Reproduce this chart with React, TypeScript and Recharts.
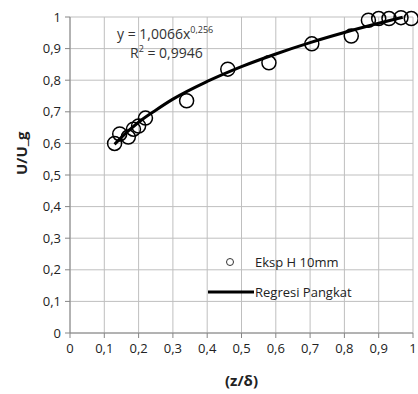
import React from "react";
import { ComposedChart, Scatter, Line, XAxis, YAxis, CartesianGrid } from "recharts";

// measured points (z/δ, U/U_g)
const zd = [0.13, 0.145, 0.17, 0.185, 0.2, 0.22, 0.34, 0.46, 0.58, 0.705, 0.82, 0.87, 0.9, 0.93, 0.965, 0.995];
const uu = [0.6, 0.63, 0.62, 0.645, 0.655, 0.68, 0.735, 0.835, 0.855, 0.915, 0.94, 0.99, 0.995, 0.995, 0.998, 0.995];

// regression curve y = 1,0066x^0,256 read at a few x positions
const fitX = [0.13, 0.15, 0.175, 0.2, 0.25, 0.3, 0.4, 0.5, 0.6, 0.7, 0.8, 0.9, 0.97];
const fitY = [0.597, 0.619, 0.644, 0.667, 0.705, 0.74, 0.796, 0.843, 0.883, 0.919, 0.951, 0.98, 0.999];

const ticks = [0, 0.1, 0.2, 0.3, 0.4, 0.5, 0.6, 0.7, 0.8, 0.9, 1];

const points = zd.map((x, i) => ({ x, y: uu[i] }));
const fit = fitX.map((x, i) => ({ x, y: fitY[i] }));

const font = "'Open Sans', sans-serif";
const fmt = (v: number) => String(Math.round(v * 10) / 10).replace(".", ",");

const Circle = (props: any) => (
  <circle cx={props.cx} cy={props.cy} r={7} fill="none" stroke="#000" strokeWidth={1.5} />
);

const LegendBox = () => (
  <div style={{ fontFamily: font, fontSize: 13, color: "#222", lineHeight: "30px" }}>
    <div style={{ display: "flex", alignItems: "center" }}>
      <svg width={50} height={14}>
        <circle cx={25} cy={7} r={3.5} fill="none" stroke="#333" strokeWidth={1} />
      </svg>
      <span>Eksp H 10mm</span>
    </div>
    <div style={{ display: "flex", alignItems: "center" }}>
      <svg width={50} height={14}>
        <line x1={3} y1={7} x2={49} y2={7} stroke="#000" strokeWidth={3} />
      </svg>
      <span>Regresi Pangkat</span>
    </div>
  </div>
);

export default function App() {
  return (
    <div style={{ position: "absolute", left: 0, top: 0, width: 418, height: 394, background: "#fff" }}>
      <ComposedChart width={418} height={394} margin={{ top: 17, right: 5, bottom: 11, left: 0 }}>
        <CartesianGrid stroke="#bfbfbf" />
        <XAxis
          dataKey="x"
          type="number"
          domain={[0, 1]}
          ticks={ticks}
          tickFormatter={fmt}
          stroke="#868686"
          tick={{ fill: "#222", fontSize: 13, fontFamily: font }}
          tickSize={5}
          tickMargin={6}
          height={50}
          label={{ value: "(z/δ)", position: "insideBottom", offset: -3, fill: "#222", fontSize: 15, fontWeight: "bold", fontFamily: font }}
        />
        <YAxis
          dataKey="y"
          type="number"
          domain={[0, 1]}
          ticks={ticks}
          tickFormatter={fmt}
          stroke="#868686"
          tick={{ fill: "#222", fontSize: 13, fontFamily: font }}
          tickSize={5}
          tickMargin={4}
          width={70}
          label={{ value: "U/U_g", angle: -90, position: "insideLeft", offset: 22, fill: "#222", fontSize: 15, fontWeight: "bold", fontFamily: font }}
        />
        <Scatter data={points} dataKey="y" shape={Circle} isAnimationActive={false} />
        <Line data={fit} dataKey="y" type="monotone" stroke="#000" strokeWidth={3} dot={false} isAnimationActive={false} />
      </ComposedChart>
      <div style={{ position: "absolute", left: 205, top: 247, width: 200 }}>
        <LegendBox />
      </div>
      <div style={{ position: "absolute", left: 117, top: 23, fontFamily: font, fontSize: 14, color: "#333", whiteSpace: "nowrap" }}>
        y = 1,0066x<sup style={{ fontSize: 9 }}>0,256</sup>
      </div>
      <div style={{ position: "absolute", left: 130, top: 42, fontFamily: font, fontSize: 14, color: "#333", whiteSpace: "nowrap" }}>
        R<sup style={{ fontSize: 9 }}>2</sup> = 0,9946
      </div>
    </div>
  );
}
